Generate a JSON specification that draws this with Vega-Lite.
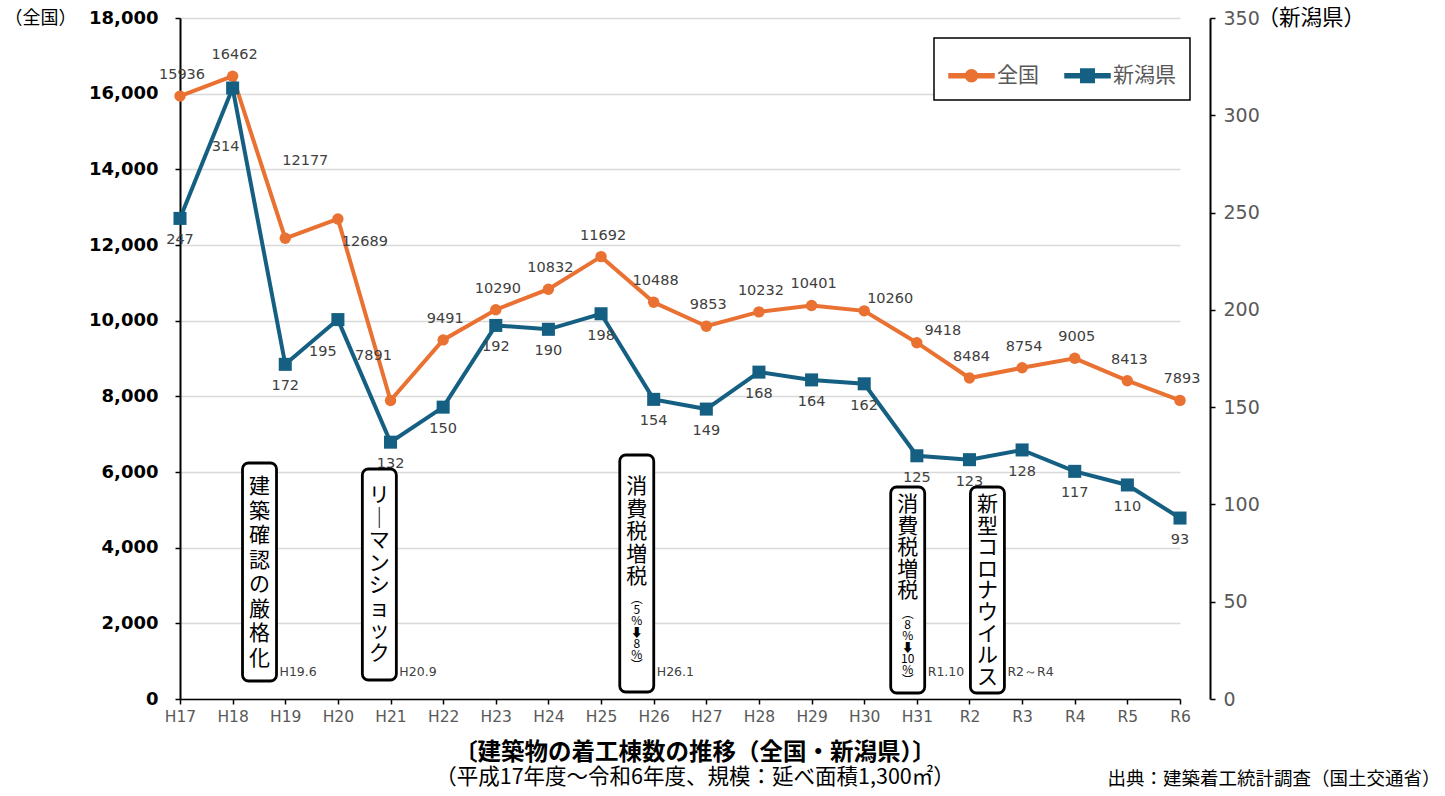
{
  "$schema": "https://vega.github.io/schema/vega-lite/v6.json",
  "width": 1030,
  "height": 681,
  "autosize": {"type": "none"},
  "padding": {"left": 180, "top": 18, "right": 235, "bottom": 97},
  "background": "white",
  "config": {"font": "Noto Sans CJK JP", "view": {"stroke": null}},
  "datasets": {
    "series": [
      {"year": "H17", "series": "全国", "value": 15936},
      {"year": "H18", "series": "全国", "value": 16462},
      {"year": "H19", "series": "全国", "value": 12177},
      {"year": "H20", "series": "全国", "value": 12689},
      {"year": "H21", "series": "全国", "value": 7891},
      {"year": "H22", "series": "全国", "value": 9491},
      {"year": "H23", "series": "全国", "value": 10290},
      {"year": "H24", "series": "全国", "value": 10832},
      {"year": "H25", "series": "全国", "value": 11692},
      {"year": "H26", "series": "全国", "value": 10488},
      {"year": "H27", "series": "全国", "value": 9853},
      {"year": "H28", "series": "全国", "value": 10232},
      {"year": "H29", "series": "全国", "value": 10401},
      {"year": "H30", "series": "全国", "value": 10260},
      {"year": "H31", "series": "全国", "value": 9418},
      {"year": "R2", "series": "全国", "value": 8484},
      {"year": "R3", "series": "全国", "value": 8754},
      {"year": "R4", "series": "全国", "value": 9005},
      {"year": "R5", "series": "全国", "value": 8413},
      {"year": "R6", "series": "全国", "value": 7893},
      {"year": "H17", "series": "新潟県", "value": 247},
      {"year": "H18", "series": "新潟県", "value": 314},
      {"year": "H19", "series": "新潟県", "value": 172},
      {"year": "H20", "series": "新潟県", "value": 195},
      {"year": "H21", "series": "新潟県", "value": 132},
      {"year": "H22", "series": "新潟県", "value": 150},
      {"year": "H23", "series": "新潟県", "value": 192},
      {"year": "H24", "series": "新潟県", "value": 190},
      {"year": "H25", "series": "新潟県", "value": 198},
      {"year": "H26", "series": "新潟県", "value": 154},
      {"year": "H27", "series": "新潟県", "value": 149},
      {"year": "H28", "series": "新潟県", "value": 168},
      {"year": "H29", "series": "新潟県", "value": 164},
      {"year": "H30", "series": "新潟県", "value": 162},
      {"year": "H31", "series": "新潟県", "value": 125},
      {"year": "R2", "series": "新潟県", "value": 123},
      {"year": "R3", "series": "新潟県", "value": 128},
      {"year": "R4", "series": "新潟県", "value": 117},
      {"year": "R5", "series": "新潟県", "value": 110},
      {"year": "R6", "series": "新潟県", "value": 93}
    ],
    "notes": [
      {"id": 1, "pos": 1.43, "top": 6238, "bottom": 476, "ttop": 5894, "text": "建\n築\n確\n認\nの\n厳\n格\n化", "date": "H19.6"},
      {"id": 2, "pos": 3.73, "top": 6079, "bottom": 502, "ttop": 5656, "text": "リ\n｜\nマ\nン\nシ\nョ\nッ\nク", "date": "H20.9"},
      {"id": 3, "pos": 8.67, "top": 6449, "bottom": 185, "ttop": 5894, "text": "消\n費\n税\n増\n税", "date": "H26.1"},
      {"id": 4, "pos": 13.87, "top": 5603, "bottom": 159, "ttop": 5420, "text": "消\n費\n税\n増\n税", "date": "R1.10"},
      {"id": 5, "pos": 15.4, "top": 5603, "bottom": 159, "ttop": 5420, "text": "新\n型\nコ\nロ\nナ\nウ\nイ\nル\nス", "date": "R2～R4"}
    ],
    "notesSub": [
      {"pos": 8.67, "ttop": 2775, "text": "︵\n5\n%\n⬇\n8\n%\n︶"},
      {"pos": 13.87, "ttop": 2380, "text": "︵\n8\n%\n⬇\n10\n%\n︶"}
    ]
  },
  "title": {
    "text": "〔建築物の着工棟数の推移（全国・新潟県）〕",
    "subtitle": "（平成17年度～令和6年度、規模：延べ面積1,300㎡）",
    "orient": "bottom",
    "anchor": "middle",
    "frame": "group",
    "offset": -47,
    "fontSize": 23.5,
    "fontWeight": "bold",
    "color": "black",
    "subtitleFontSize": 21.5,
    "subtitleColor": "black",
    "subtitlePadding": 3
  },
  "resolve": {"scale": {"x": "independent", "y": "independent"}},
  "layer": [
    {
      "data": {"name": "series"},
      "transform": [{"filter": "datum.series === '全国'"}],
      "encoding": {
        "x": {
          "field": "year", "type": "ordinal", "sort": null,
          "scale": {"type": "point", "range": [0, 1000], "padding": 0},
          "axis": {
            "title": "出典：建築着工統計調査（国土交通省）",
            "titleFontSize": 18.5, "titleFontWeight": "normal", "titleColor": "black",
            "titleAnchor": null, "titleAlign": "right", "titleX": 1260, "titleY": 85, "titleBaseline": "alphabetic",
            "labelAngle": 0, "labelFont": "DejaVu Sans", "labelFontSize": 15.5, "labelColor": "#595959", "labelPadding": 5,
            "tickSize": 5, "tickColor": "black", "tickWidth": 1.5,
            "domainColor": "black", "domainWidth": 1.5, "grid": false
          }
        },
        "y": {
          "field": "value", "type": "quantitative",
          "scale": {"domain": [0, 18000], "nice": false},
          "axis": {
            "values": [0, 2000, 4000, 6000, 8000, 10000, 12000, 14000, 16000, 18000],
            "format": ",d",
            "title": "（全国）", "titleAngle": 0, "titleX": -104, "titleY": 0,
            "titleAlign": "right", "titleBaseline": "middle", "titleFontSize": 18,
            "titleFontWeight": "normal", "titleColor": "black",
            "labelFont": "DejaVu Sans", "labelFontSize": 18, "labelFontWeight": "bold", "labelColor": "black", "labelPadding": 17,
            "tickSize": 5, "tickColor": "black", "tickWidth": 1.5,
            "domainColor": "black", "domainWidth": 2,
            "grid": true, "gridColor": "#d9d9d9", "gridWidth": 1.3
          }
        },
        "color": {
          "field": "series", "type": "nominal",
          "scale": {"domain": ["全国", "新潟県"], "range": ["#E97132", "#156082"]},
          "legend": {
            "orient": "none", "legendX": 754, "legendY": 20,
            "direction": "horizontal", "title": null,
            "strokeColor": "black", "fillColor": "white", "padding": 14,
            "symbolSize": 2025, "symbolType": "M-1,-0.09H1V0.09H-1Z",
            "labelFontSize": 21, "labelColor": "#595959", "labelOffset": 2, "columnPadding": 23,
            "encode": {
              "legend": {"update": {"strokeWidth": {"value": 1.5}}},
              "symbols": {
                "update": {
                  "shape": {"signal": "datum.value === '全国' ? 'M-1,-0.09H-0.27V0.09H-1Z M1,-0.09H0.27V0.09H1Z M0.27,0A0.27,0.27 0 1,1 -0.27,0A0.27,0.27 0 1,1 0.27,0Z' : 'M-1,-0.09H-0.3V0.09H-1Z M1,-0.09H0.3V0.09H1Z M-0.3,-0.3H0.3V0.3H-0.3Z'"},
                  "fill": {"scale": "color", "field": "value"},
                  "stroke": {"value": "transparent"},
                  "opacity": {"value": 1}
                }
              }
            }
          }
        }
      },
      "layer": [
        {"mark": {"type": "line", "strokeWidth": 4}},
        {"mark": {"type": "point", "shape": "circle", "filled": true, "size": 130, "opacity": 1}},
        {
          "transform": [{"filter": "indexof([12177, 12689, 7891, 10260, 9418], datum.value) < 0"}],
          "mark": {"type": "text", "dy": -21, "dx": 2, "font": "DejaVu Sans", "fontSize": 14.5, "baseline": "middle"},
          "encoding": {"text": {"field": "value", "format": "d"}, "color": {"value": "#404040"}}
        },
        {
          "transform": [{"filter": "datum.value === 12177"}],
          "mark": {"type": "text", "dy": -77, "dx": 20, "font": "DejaVu Sans", "fontSize": 14.5, "baseline": "middle"},
          "encoding": {"text": {"field": "value", "format": "d"}, "color": {"value": "#404040"}}
        },
        {
          "transform": [{"filter": "datum.value === 12689"}],
          "mark": {"type": "text", "dy": 23, "dx": 27, "font": "DejaVu Sans", "fontSize": 14.5, "baseline": "middle"},
          "encoding": {"text": {"field": "value", "format": "d"}, "color": {"value": "#404040"}}
        },
        {
          "transform": [{"filter": "datum.value === 7891"}],
          "mark": {"type": "text", "dy": -44, "dx": -17, "font": "DejaVu Sans", "fontSize": 14.5, "baseline": "middle"},
          "encoding": {"text": {"field": "value", "format": "d"}, "color": {"value": "#404040"}}
        },
        {
          "transform": [{"filter": "datum.value === 10260 || datum.value === 9418"}],
          "mark": {"type": "text", "dy": -12, "dx": 26, "font": "DejaVu Sans", "fontSize": 14.5, "baseline": "middle"},
          "encoding": {"text": {"field": "value", "format": "d"}, "color": {"value": "#404040"}}
        }
      ]
    },
    {
      "data": {"name": "series"},
      "transform": [{"filter": "datum.series === '新潟県'"}],
      "encoding": {
        "x": {
          "field": "year", "type": "ordinal", "sort": null,
          "scale": {"type": "point", "range": [0, 1000], "padding": 0},
          "axis": null
        },
        "y": {
          "field": "value", "type": "quantitative",
          "scale": {"domain": [0, 350], "nice": false},
          "axis": {
            "orient": "right",
            "values": [0, 50, 100, 150, 200, 250, 300, 350],
            "title": "（新潟県）", "titleAngle": 0, "titleX": 47, "titleY": 0,
            "titleAlign": "left", "titleBaseline": "middle", "titleFontSize": 21.5,
            "titleFontWeight": "normal", "titleColor": "black",
            "labelFont": "DejaVu Sans", "labelFontSize": 19, "labelColor": "#595959", "labelPadding": 8,
            "tickSize": 5, "tickColor": "black", "tickWidth": 1.5,
            "domainColor": "black", "domainWidth": 2, "grid": false
          }
        },
        "color": {"field": "series", "type": "nominal"}
      },
      "layer": [
        {"mark": {"type": "line", "strokeWidth": 4}},
        {"mark": {"type": "point", "shape": "square", "filled": true, "size": 170, "opacity": 1}},
        {
          "transform": [{"filter": "datum.value !== 314 && datum.value !== 195"}],
          "mark": {"type": "text", "dy": 22, "font": "DejaVu Sans", "fontSize": 14.5, "baseline": "middle"},
          "encoding": {"text": {"field": "value", "format": "d"}, "color": {"value": "#404040"}}
        },
        {
          "transform": [{"filter": "datum.value === 314"}],
          "mark": {"type": "text", "dy": 59, "dx": -7, "font": "DejaVu Sans", "fontSize": 14.5, "baseline": "middle"},
          "encoding": {"text": {"field": "value", "format": "d"}, "color": {"value": "#404040"}}
        },
        {
          "transform": [{"filter": "datum.value === 195"}],
          "mark": {"type": "text", "dy": 32, "dx": -15, "font": "DejaVu Sans", "fontSize": 14.5, "baseline": "middle"},
          "encoding": {"text": {"field": "value", "format": "d"}, "color": {"value": "#404040"}}
        }
      ]
    },
    {
      "encoding": {
        "x": {"field": "pos", "type": "quantitative", "scale": {"domain": [0, 19], "range": [0, 1000], "nice": false, "zero": false}, "axis": null},
        "y": {"field": "top", "type": "quantitative", "scale": {"domain": [0, 18000], "nice": false}, "axis": null}
      },
      "layer": [
        {
          "data": {"name": "notes"},
          "mark": {"type": "bar", "width": 34, "fill": "white", "stroke": "black", "strokeWidth": 2.8, "cornerRadius": 6},
          "encoding": {"y2": {"field": "bottom"}}
        },
        {
          "data": {"name": "notes"},
          "transform": [{"filter": "datum.id === 1"}],
          "mark": {"type": "text", "baseline": "top", "fontSize": 21, "lineHeight": 24.5, "lineBreak": "\n", "color": "black"},
          "encoding": {"y": {"field": "ttop", "type": "quantitative"}, "text": {"field": "text"}}
        },
        {
          "data": {"name": "notes"},
          "transform": [{"filter": "datum.id === 2 || datum.id === 3"}],
          "mark": {"type": "text", "baseline": "top", "fontSize": 21, "lineHeight": 22.5, "lineBreak": "\n", "color": "black"},
          "encoding": {"y": {"field": "ttop", "type": "quantitative"}, "text": {"field": "text"}}
        },
        {
          "data": {"name": "notes"},
          "transform": [{"filter": "datum.id >= 4"}],
          "mark": {"type": "text", "baseline": "top", "fontSize": 21, "lineHeight": 21.6, "lineBreak": "\n", "color": "black"},
          "encoding": {"y": {"field": "ttop", "type": "quantitative"}, "text": {"field": "text"}}
        },
        {
          "data": {"name": "notesSub"},
          "mark": {"type": "text", "baseline": "top", "fontSize": 12, "lineHeight": 11.2, "lineBreak": "\n", "color": "black"},
          "encoding": {"y": {"field": "ttop", "type": "quantitative"}, "text": {"field": "text"}}
        },
        {
          "data": {"name": "notes"},
          "mark": {"type": "text", "align": "left", "baseline": "alphabetic", "font": "DejaVu Sans", "fontSize": 12.5, "dx": 20, "color": "#404040"},
          "encoding": {"y": {"datum": 600}, "text": {"field": "date"}}
        }
      ]
    }
  ]
}
